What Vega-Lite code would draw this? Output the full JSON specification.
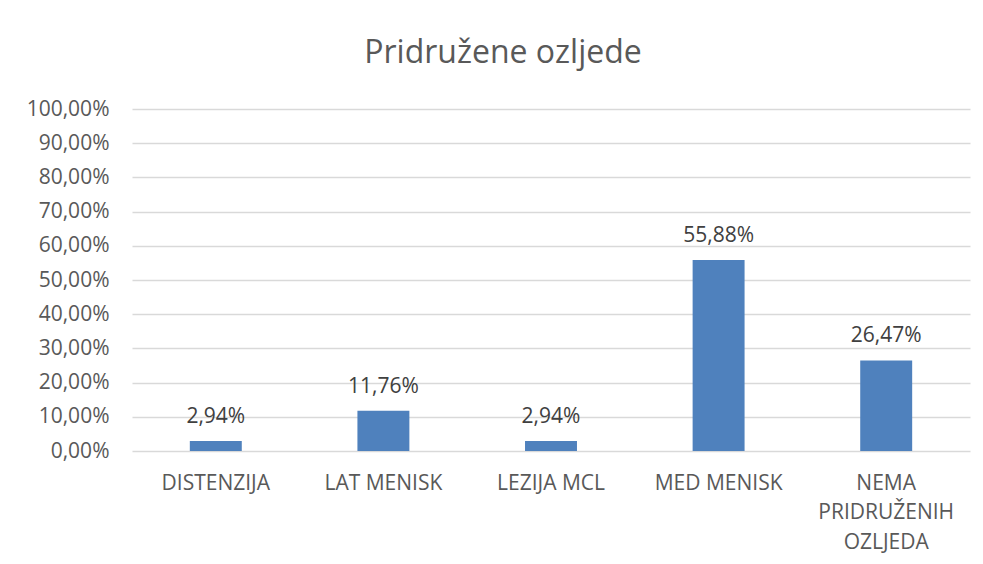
{
  "$schema": "https://vega.github.io/schema/vega-lite/v6.json",
  "autosize": {"type": "none"},
  "width": 838,
  "height": 342,
  "padding": {"left": 132, "top": 109, "right": 13, "bottom": 113},
  "background": "white",
  "config": {
    "locale": {"number": {"decimal": ",", "thousands": ".", "grouping": [3], "currency": ["", " €"]}},
    "view": {"stroke": null},
    "font": "Open Sans"
  },
  "title": {
    "text": "Pridružene ozljede",
    "frame": "group",
    "anchor": "middle",
    "dx": -48,
    "fontSize": 32,
    "fontWeight": "normal",
    "color": "#595959",
    "font": "Open Sans",
    "offset": 28
  },
  "data": {
    "values": [
      {"kategorija": "DISTENZIJA", "udio": 0.0294},
      {"kategorija": "LAT MENISK", "udio": 0.1176},
      {"kategorija": "LEZIJA MCL", "udio": 0.0294},
      {"kategorija": "MED MENISK", "udio": 0.5588},
      {"kategorija": "NEMA|PRIDRUŽENIH|OZLJEDA", "udio": 0.2647}
    ]
  },
  "encoding": {
    "x": {
      "field": "kategorija",
      "type": "nominal",
      "sort": null,
      "scale": {"paddingInner": 0.69, "paddingOuter": 0.345},
      "axis": {
        "title": null,
        "labelAngle": 0,
        "labelExpr": "split(datum.label, '|')",
        "labelFontSize": 21,
        "labelColor": "#595959",
        "labelPadding": 21,
        "labelLineHeight": 29.5,
        "ticks": false,
        "domain": false,
        "grid": false
      }
    },
    "y": {
      "field": "udio",
      "type": "quantitative",
      "scale": {"domain": [0, 1]},
      "axis": {
        "title": null,
        "values": [0, 0.1, 0.2, 0.3, 0.4, 0.5, 0.6, 0.7, 0.8, 0.9, 1],
        "format": ".2%",
        "labelFontSize": 21,
        "labelColor": "#595959",
        "labelPadding": 23,
        "ticks": false,
        "domain": false,
        "gridColor": "#d9d9d9",
        "gridWidth": 1.3
      }
    }
  },
  "layer": [
    {"mark": {"type": "bar", "color": "#4f81bd"}},
    {
      "mark": {"type": "text", "baseline": "alphabetic", "dy": -18, "fontSize": 21, "color": "#404040"},
      "encoding": {"text": {"field": "udio", "type": "quantitative", "format": ".2%"}}
    }
  ]
}
